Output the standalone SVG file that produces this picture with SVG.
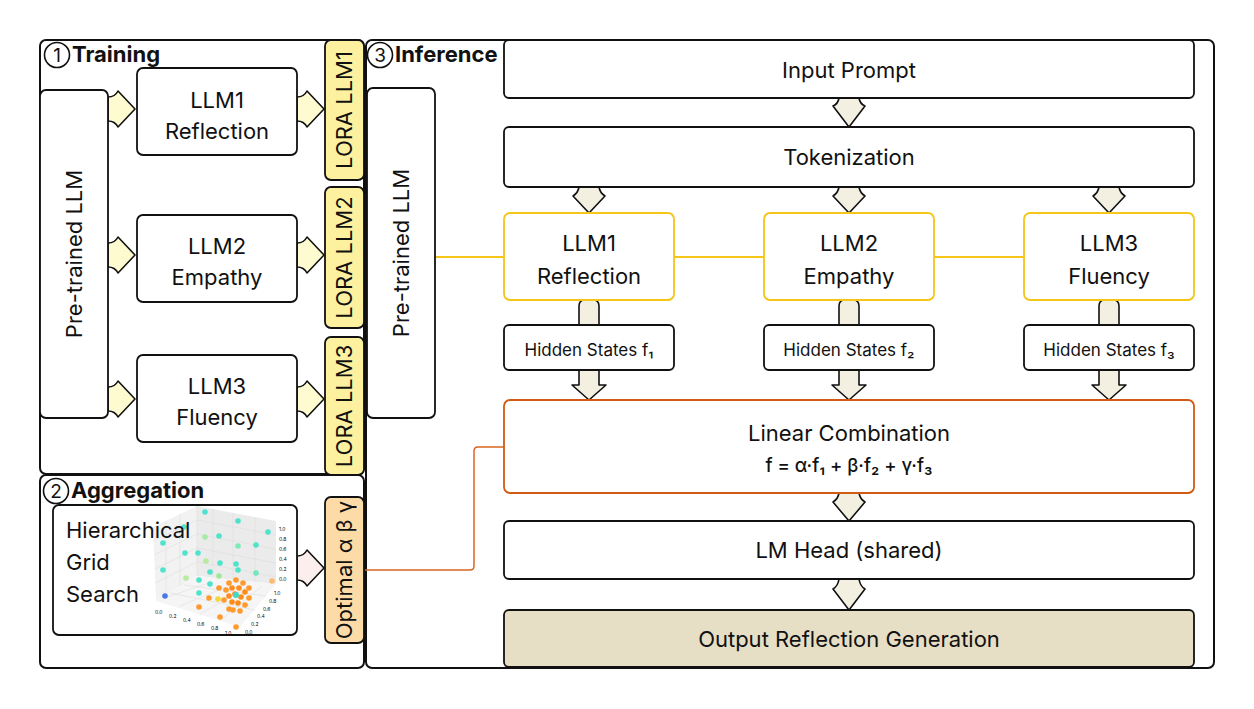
<svg xmlns="http://www.w3.org/2000/svg" width="1254" height="709" viewBox="0 0 1254 709">
<style>
text{font-family:Inter,"Liberation Sans","DejaVu Sans",sans-serif;fill:#111}
.panel{fill:#fff;stroke:#111;stroke-width:2}
.box{fill:#fff;stroke:#111;stroke-width:1.8}
.ybox{fill:#fff;stroke:#F5C518;stroke-width:1.8}
.lora{fill:#FDF1A0;stroke:#111;stroke-width:1.8}
.opt{fill:#FDDBA6;stroke:#111;stroke-width:1.8}
.rarr{fill:#FFFBD0;stroke:#111;stroke-width:1.6;stroke-linejoin:round}
.parr{fill:#FDEEEE;stroke:#111;stroke-width:1.6;stroke-linejoin:round}
.darr{fill:#F3F0E2;stroke:#111;stroke-width:1.6;stroke-linejoin:round}
.t20{font-size:22px;text-anchor:middle}
.t15{font-size:17px;text-anchor:middle}
.title{font-size:22px;font-weight:700}
.num{font-size:19px;text-anchor:middle}
.circ{fill:#fff;stroke:#111;stroke-width:1.6}
.dot{stroke:none}
.tick{font-size:5px;fill:#333}
</style>

<!-- Panels -->
<g id="panel-training">
<rect class="panel" x="40" y="40" width="324" height="434" rx="6"/>
<circle class="circ" cx="57" cy="55" r="12.5"/>
<text class="num" x="57" y="62">1</text>
<text class="title" x="72" y="62">Training</text>
</g>
<g id="panel-aggregation">
<rect class="panel" x="40" y="475" width="324" height="193" rx="6"/>
<circle class="circ" cx="56" cy="491" r="12.5"/>
<text class="num" x="56" y="498">2</text>
<text class="title" x="71" y="498">Aggregation</text>
</g>
<g id="panel-inference">
<rect class="panel" x="366" y="40" width="848" height="628" rx="6"/>
<circle class="circ" cx="380" cy="55" r="12.5"/>
<text class="num" x="380" y="62">3</text>
<text class="title" x="395" y="62">Inference</text>
</g>

<!-- Connectors -->
<g id="connectors">
<path d="M435,257 H1024" fill="none" stroke="#F5C518" stroke-width="1.8"/>
<path d="M364,570 H470 Q474,570 474,566 V451 Q474,447 478,447 H504" fill="none" stroke="#D9661F" stroke-width="1.5"/>
<!-- training arrows -->
<path class="rarr" d="M108,97 C113,97 116,95 118,91 L135,109 L118,127 C116,123 113,121 108,121 Z"/>
<path class="rarr" d="M297,97 C302,97 305,95 307,91 L324,109 L307,127 C305,123 302,121 297,121 Z"/>
<path class="rarr" d="M108,243 C113,243 116,241 118,237 L135,255 L118,273 C116,269 113,267 108,267 Z"/>
<path class="rarr" d="M297,243 C302,243 305,241 307,237 L324,255 L307,273 C305,269 302,267 297,267 Z"/>
<path class="rarr" d="M108,387 C113,387 116,385 118,381 L135,399 L118,417 C116,413 113,411 108,411 Z"/>
<path class="rarr" d="M297,387 C302,387 305,385 307,381 L324,399 L307,417 C305,413 302,411 297,411 Z"/>
<path class="parr" d="M297,556 C302,556 305,554 307,550 L324,568 L307,586 C305,582 302,580 297,580 Z"/>
<!-- inference short down arrows -->
<path class="darr" d="M839,98 H859 Q860,104 865,106 L849,127 L833,106 Q838,104 839,98 Z"/>
<path class="darr" d="M579,187 H599 Q600,193 605,196 L589,213 L573,196 Q578,193 579,187 Z"/>
<path class="darr" d="M839,187 H859 Q860,193 865,196 L849,213 L833,196 Q838,193 839,187 Z"/>
<path class="darr" d="M1099,187 H1119 Q1120,193 1125,196 L1109,213 L1093,196 Q1098,193 1099,187 Z"/>
<path class="darr" d="M839,493 H859 Q860,499 865,502 L849,521 L833,502 Q838,499 839,493 Z"/>
<path class="darr" d="M839,579 H859 Q860,586 865,589 L849,610 L833,589 Q838,586 839,579 Z"/>
<!-- long arrows LLM -> Linear Combination (behind hidden states) -->
<path class="darr" d="M579,385 V306 Q579,300 585,300 H593 Q599,300 599,306 V385 L606,385 L589,400 L572,385 Z"/>
<path class="darr" d="M839,385 V306 Q839,300 845,300 H853 Q859,300 859,306 V385 L866,385 L849,400 L832,385 Z"/>
<path class="darr" d="M1099,385 V306 Q1099,300 1105,300 H1113 Q1119,300 1119,306 V385 L1126,385 L1109,400 L1092,385 Z"/>
</g>

<!-- Training nodes -->
<g id="train-pretrained">
<rect class="box" x="40" y="90" width="68" height="328" rx="6"/>
<text class="t20" transform="translate(82,254) rotate(-90)">Pre-trained LLM</text>
</g>
<g id="train-llm1">
<rect class="box" x="137" y="68" width="160" height="87" rx="6"/>
<text class="t20" x="217" y="108">LLM1</text>
<text class="t20" x="217" y="139">Reflection</text>
</g>
<g id="train-llm2">
<rect class="box" x="137" y="215" width="160" height="87" rx="6"/>
<text class="t20" x="217" y="254">LLM2</text>
<text class="t20" x="217" y="285">Empathy</text>
</g>
<g id="train-llm3">
<rect class="box" x="137" y="355" width="160" height="87" rx="6"/>
<text class="t20" x="217" y="394">LLM3</text>
<text class="t20" x="217" y="425">Fluency</text>
</g>
<g id="lora1">
<rect class="lora" x="325" y="40" width="39" height="140" rx="6"/>
<text class="t20" transform="translate(352,110) rotate(-90)">LORA LLM1</text>
</g>
<g id="lora2">
<rect class="lora" x="325" y="187" width="39" height="141" rx="6"/>
<text class="t20" transform="translate(352,257.5) rotate(-90)">LORA LLM2</text>
</g>
<g id="lora3">
<rect class="lora" x="325" y="337" width="39" height="138" rx="6"/>
<text class="t20" transform="translate(352,406) rotate(-90)">LORA LLM3</text>
</g>

<!-- Aggregation nodes -->
<g id="grid-search">
<rect class="box" x="53" y="505" width="244" height="130" rx="6"/>
<g id="scatter-plot">
<polygon points="153,527 197,506 197,576 156,601" fill="#F2F2F2" stroke="none"/>
<polygon points="197,506 276,521 276,584 197,576" fill="#EBEBEB" stroke="none"/>
<polygon points="156,601 197,576 276,584 240,627" fill="#F5F5F5" stroke="none"/>
<g stroke="#DDDDDD" stroke-width="0.6" fill="none">
<path d="M197,506 V576 M180,514 V586 M166,521 V594 M213,509 V578 M233,513 V580 M255,517 V582"/>
<path d="M153,541 L197,520 L276,535 M154,555 L197,534 L276,549 M155,569 L197,548 L276,563 M155,583 L197,562 L276,577"/>
<path d="M170,593 L255,610 M184,585 L266,596 M164,598 L212,582 M180,606 L226,587 M200,614 L248,587 M220,621 L262,586"/>
</g>
<g class="tick">
<text x="155" y="614">0.0</text><text x="169" y="618">0.2</text><text x="183" y="622">0.4</text><text x="197" y="626">0.6</text><text x="211" y="630">0.8</text><text x="225" y="635">1.0</text>
<text x="245" y="634">0.0</text><text x="251" y="626">0.2</text><text x="257" y="618">0.4</text><text x="263" y="611">0.6</text><text x="269" y="603">0.8</text><text x="274" y="595">1.0</text>
<text x="279" y="581">0.0</text><text x="279" y="571">0.2</text><text x="279" y="561">0.4</text><text x="279" y="551">0.6</text><text x="279" y="541">0.8</text><text x="279" y="531">1.0</text>
</g>
<g class="dot">
<circle cx="205" cy="512" r="2.8" fill="#4FE3CC"/>
<circle cx="238" cy="521" r="2.8" fill="#4FE3CC"/>
<circle cx="184" cy="527" r="2.8" fill="#4FE3CC"/>
<circle cx="205" cy="537" r="2.8" fill="#A6EBA8"/>
<circle cx="219" cy="536" r="2.8" fill="#4FE3CC"/>
<circle cx="268" cy="532" r="2.8" fill="#4FE3CC"/>
<circle cx="163" cy="543" r="2.8" fill="#4FE3CC"/>
<circle cx="185" cy="553" r="2.8" fill="#4FE3CC"/>
<circle cx="198" cy="553" r="2.8" fill="#4FE3CC"/>
<circle cx="238" cy="546" r="2.8" fill="#7DEBB8"/>
<circle cx="256" cy="545" r="2.8" fill="#4FE3CC"/>
<circle cx="206" cy="561" r="2.8" fill="#B8EAA0"/>
<circle cx="220" cy="563" r="2.8" fill="#4FE3CC"/>
<circle cx="236" cy="564" r="2.8" fill="#4FE3CC"/>
<circle cx="238" cy="570" r="2.8" fill="#4FE3CC"/>
<circle cx="256" cy="573" r="2.8" fill="#6EE8BC"/>
<circle cx="163" cy="570" r="2.8" fill="#4FE3CC"/>
<circle cx="186" cy="578" r="2.8" fill="#B8EAA0"/>
<circle cx="199" cy="580" r="2.8" fill="#4FE3CC"/>
<circle cx="210" cy="572" r="2.8" fill="#4FE3CC"/>
<circle cx="219" cy="576" r="2.8" fill="#9FE89A"/>
<circle cx="272" cy="581" r="2.8" fill="#FDBA70"/>
<circle cx="210" cy="584" r="2.8" fill="#4FE3CC"/>
<circle cx="219" cy="588" r="2.8" fill="#FF9A2E"/>
<circle cx="199" cy="593" r="2.8" fill="#4FE3CC"/>
<circle cx="165" cy="596" r="2.8" fill="#4A78E8"/>
<circle cx="209" cy="598" r="2.8" fill="#FF9A2E"/>
<circle cx="218" cy="599" r="2.8" fill="#F2D83A"/>
<circle cx="199" cy="607" r="2.8" fill="#FF9A2E"/>
<circle cx="220" cy="617" r="2.8" fill="#FF9A2E"/>
<circle cx="236" cy="627" r="2.8" fill="#FF9A2E"/>
<circle cx="229" cy="583" r="2.8" fill="#FF9A2E"/>
<circle cx="236" cy="580" r="2.8" fill="#FF9A2E"/>
<circle cx="243" cy="583" r="2.8" fill="#FF9A2E"/>
<circle cx="249" cy="588" r="2.8" fill="#FF9A2E"/>
<circle cx="226" cy="590" r="2.8" fill="#FF9A2E"/>
<circle cx="232" cy="588" r="2.8" fill="#FF8C1A"/>
<circle cx="239" cy="588" r="2.8" fill="#FF8C1A"/>
<circle cx="245" cy="592" r="2.8" fill="#FF8C1A"/>
<circle cx="229" cy="596" r="2.8" fill="#FF8C1A"/>
<circle cx="235" cy="594" r="2.8" fill="#FF8C1A"/>
<circle cx="241" cy="597" r="2.8" fill="#FF8C1A"/>
<circle cx="249" cy="598" r="2.8" fill="#FF9A2E"/>
<circle cx="224" cy="600" r="2.8" fill="#FF9A2E"/>
<circle cx="232" cy="602" r="2.8" fill="#FF8C1A"/>
<circle cx="238" cy="603" r="2.8" fill="#FF8C1A"/>
<circle cx="245" cy="605" r="2.8" fill="#FF9A2E"/>
<circle cx="229" cy="609" r="2.8" fill="#FF9A2E"/>
<circle cx="240" cy="611" r="2.8" fill="#FF9A2E"/>
<circle cx="233" cy="610" r="2.8" fill="#FF9A2E"/>
<circle cx="236" cy="595" r="3" fill="#3FD9C4"/>
</g>
</g>
<text x="66" y="538" style="font-size:22px">Hierarchical</text>
<text x="66" y="570" style="font-size:22px">Grid</text>
<text x="66" y="602" style="font-size:22px">Search</text>
</g>
<g id="optimal">
<rect class="opt" x="325" y="497" width="39" height="146" rx="6"/>
<text class="t20" transform="translate(352,570) rotate(-90)">Optimal α β γ</text>
</g>

<!-- Inference nodes -->
<g id="inf-pretrained">
<rect class="box" x="367" y="88" width="68" height="330" rx="6"/>
<text class="t20" transform="translate(409,253) rotate(-90)">Pre-trained LLM</text>
</g>
<g id="input-prompt">
<rect class="box" x="504" y="40" width="690" height="58" rx="5"/>
<text class="t20" x="849" y="78">Input Prompt</text>
</g>
<g id="tokenization">
<rect class="box" x="504" y="127" width="690" height="60" rx="5"/>
<text class="t20" x="849" y="165">Tokenization</text>
</g>
<g id="inf-llm1">
<rect class="ybox" x="504" y="213" width="170" height="87" rx="6"/>
<text class="t20" x="589" y="251">LLM1</text>
<text class="t20" x="589" y="284">Reflection</text>
</g>
<g id="inf-llm2">
<rect class="ybox" x="764" y="213" width="170" height="87" rx="6"/>
<text class="t20" x="849" y="251">LLM2</text>
<text class="t20" x="849" y="284">Empathy</text>
</g>
<g id="inf-llm3">
<rect class="ybox" x="1024" y="213" width="170" height="87" rx="6"/>
<text class="t20" x="1109" y="251">LLM3</text>
<text class="t20" x="1109" y="284">Fluency</text>
</g>
<g id="hidden1">
<rect class="box" x="504" y="325" width="170" height="45" rx="5"/>
<text class="t15" x="589" y="356">Hidden States f₁</text>
</g>
<g id="hidden2">
<rect class="box" x="764" y="325" width="170" height="45" rx="5"/>
<text class="t15" x="849" y="356">Hidden States f₂</text>
</g>
<g id="hidden3">
<rect class="box" x="1024" y="325" width="170" height="45" rx="5"/>
<text class="t15" x="1109" y="356">Hidden States f₃</text>
</g>
<g id="linear-combination">
<rect x="504" y="400" width="690" height="93" rx="6" fill="#fff" stroke="#D35A12" stroke-width="1.8"/>
<text class="t20" x="849" y="441">Linear Combination</text>
<text class="t15" x="849" y="472" style="font-size:18.5px;font-weight:500">f = α·f₁ + β·f₂ + γ·f₃</text>
</g>
<g id="lm-head">
<rect class="box" x="504" y="521" width="690" height="58" rx="5"/>
<text class="t20" x="849" y="558">LM Head (shared)</text>
</g>
<g id="output">
<rect x="504" y="610" width="690" height="57" rx="5" fill="#E6DFC6" stroke="#111" stroke-width="1.8"/>
<text class="t20" x="849" y="647">Output Reflection Generation</text>
</g>
</svg>
